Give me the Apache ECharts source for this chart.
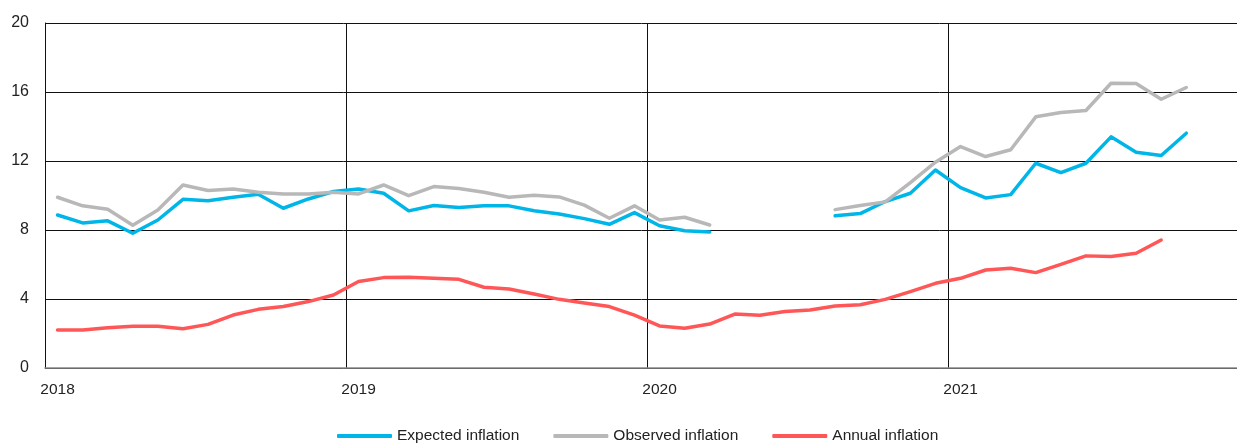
<!DOCTYPE html>
<html>
<head>
<meta charset="utf-8">
<script src="https://cdn.jsdelivr.net/npm/echarts@6/dist/echarts.min.js"></script>
<style>
html,body{margin:0;padding:0;background:#fff;}
#chart{width:1237px;height:444px;}
</style>
</head>
<body>
<div id="chart"></div>
<script>
// Monthly categories Jan 2018 .. Dec 2021
const years = [2018, 2019, 2020, 2021];
const months = [];
years.forEach(y => { for (let m = 1; m <= 12; m++) months.push(y + '-' + String(m).padStart(2, '0')); });

const expectedInflation = [
  8.87, 8.41, 8.53, 7.81, 8.58, 9.78, 9.69, 9.90, 10.07, 9.26, 9.80, 10.23,
  10.38, 10.13, 9.11, 9.42, 9.30, 9.40, 9.40, 9.12, 8.93, 8.66, 8.33, 9.01,
  8.25, 7.96, 7.89, null, null, null, null, 8.82, 8.95, 9.65, 10.13, 11.48,
  10.46, 9.86, 10.05, 11.87, 11.33, 11.87, 13.40, 12.51, 12.32, 13.61, null, null
];
const observedInflation = [
  9.90, 9.40, 9.20, 8.28, 9.16, 10.61, 10.29, 10.38, 10.19, 10.09, 10.09, 10.19,
  10.09, 10.61, 9.99, 10.52, 10.40, 10.19, 9.90, 10.01, 9.92, 9.44, 8.68, 9.40,
  8.58, 8.74, 8.29, null, null, null, null, 9.18, 9.42, 9.63, 10.75, 11.93,
  12.84, 12.26, 12.65, 14.56, 14.81, 14.93, 16.51, 16.49, 15.58, 16.26, null, null
];
const annualInflation = [
  2.20, 2.20, 2.34, 2.42, 2.42, 2.28, 2.53, 3.07, 3.40, 3.56, 3.85, 4.23,
  5.01, 5.24, 5.26, 5.20, 5.14, 4.68, 4.58, 4.29, 3.98, 3.77, 3.56, 3.07,
  2.44, 2.30, 2.55, 3.13, 3.06, 3.27, 3.36, 3.60, 3.67, 3.98, 4.43, 4.91,
  5.20, 5.68, 5.78, 5.53, 6.01, 6.50, 6.46, 6.65, 7.42, null, null, null
];
const seriesNames = ['Expected inflation', 'Observed inflation', 'Annual inflation'];
const seriesColors = ['#00b5e8', '#b8b8b8', '#ff5757'];
const yTicks = { min: 0, max: 20, interval: 4 };

const chart = echarts.init(document.getElementById('chart'), null, { renderer: 'canvas' });
const font = '"Liberation Sans", Arial, sans-serif';
const mk = (name, data, color) => ({
  name, type: 'line', data, connectNulls: false, showSymbol: false, symbol: 'none',
  lineStyle: { color, width: 3.5, cap: 'round', join: 'round' },
  itemStyle: { color }, animation: false
});
chart.setOption({
  animation: false,
  textStyle: { fontFamily: font },
  grid: { left: 45, width: 1204, top: 23, height: 345, containLabel: false, outerBoundsMode: 'none' },
  legend: {
    left: 337, top: 428, padding: 0, itemWidth: 55, itemHeight: 4, itemGap: 34,
    icon: 'roundRect',
    textStyle: { fontFamily: font, fontSize: 15.5, color: '#222' },
    data: seriesNames
  },
  xAxis: {
    type: 'category', data: months, boundaryGap: true,
    axisLine: { show: true, lineStyle: { color: '#888', width: 1.5 } },
    axisTick: { show: false },
    axisLabel: {
      interval: 11, margin: 14, fontSize: 15.5, color: '#222', fontFamily: font,
      formatter: v => v.slice(0, 4)
    },
    splitLine: { show: true, interval: 11, lineStyle: { color: '#111', width: 1 } }
  },
  yAxis: {
    type: 'value', min: yTicks.min, max: yTicks.max, interval: yTicks.interval,
    axisLine: { show: true, lineStyle: { color: '#111', width: 1 } },
    axisTick: { show: false },
    axisLabel: { margin: 16, fontSize: 16, color: '#222', fontFamily: font },
    splitLine: { show: true, lineStyle: { color: '#111', width: 1 } }
  },
  series: [
    mk(seriesNames[0], expectedInflation, seriesColors[0]),
    mk(seriesNames[1], observedInflation, seriesColors[1]),
    mk(seriesNames[2], annualInflation, seriesColors[2])
  ]
});
</script>
</body>
</html>
